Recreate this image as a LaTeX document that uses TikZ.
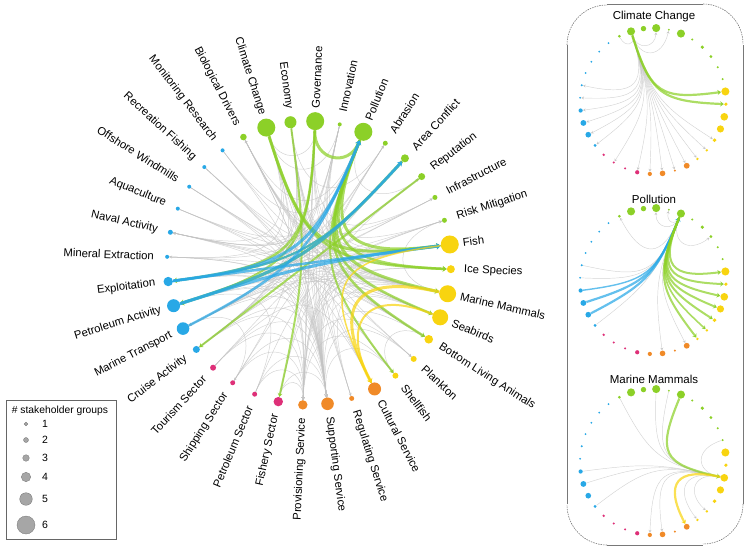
\documentclass[tikz,border=0pt]{standalone}
\usepackage{fontspec}
\setmainfont{Liberation Sans}
\usetikzlibrary{calc,arrows.meta}
\definecolor{cg}{RGB}{140,208,40}
\definecolor{cy}{RGB}{248,212,16}
\definecolor{co}{RGB}{240,138,40}
\definecolor{cp}{RGB}{222,48,120}
\definecolor{cb}{RGB}{40,168,230}
\definecolor{eg}{RGB}{195,195,195}
\definecolor{panelgray}{RGB}{120,120,120}
\pgfdeclarelayer{bg}
\pgfsetlayers{bg,main}
\newcommand\nodelist{0/Governance/cg/9, 1/Innovation/cg/2, 2/Pollution/cg/9, 3/Abrasion/cg/2.5, 4/Area Conflict/cg/4, 5/Reputation/cg/3.5, 6/Infrastructure/cg/2.5, 7/Risk Mitigation/cg/2.5, 8/Fish/cy/9, 9/Ice Species/cy/4, 10/Marine Mammals/cy/8.5, 11/Seabirds/cy/8, 12/Bottom Living Animals/cy/4.3, 13/Plankton/cy/3, 14/Shellfish/cy/3, 15/Cultural Service/co/6.5, 16/Regulating Service/co/2.5, 17/Supporting Service/co/6.3, 18/Provisioning Service/co/4.7, 19/Fishery Sector/cp/4.7, 20/Petroleum Sector/cp/2.5, 21/Shipping Sector/cp/2.5, 22/Tourism Sector/cp/3, 23/Cruise Activity/cb/3.5, 24/Marine Transport/cb/6.3, 25/Petroleum Activity/cb/6.5, 26/Exploitation/cb/4.7, 27/Mineral Extraction/cb/2, 28/Naval Activity/cb/2.5, 29/Aquaculture/cb/2, 30/Offshore Windmills/cb/2, 31/Recreation Fishing/cb/2, 32/Monitoring Research/cb/2, 33/Biological Drivers/cg/3.3, 34/Climate Change/cg/9, 35/Economy/cg/6}
% main edges: from/to/colour/width
\newcommand\mainedges{32/2/eg/0.5, 32/17/eg/0.5, 31/8/eg/0.5, 31/15/eg/0.5, 30/10/eg/0.5, 30/11/eg/0.5, 29/8/eg/0.5, 29/2/eg/0.5, 28/2/eg/0.5, 28/10/eg/0.5, 28/12/eg/0.5, 27/2/eg/0.5, 27/17/eg/0.5, 26/17/eg/0.5, 26/12/eg/0.5, 25/17/eg/0.5, 25/10/eg/0.5, 25/11/eg/0.5, 24/10/eg/0.5, 24/11/eg/0.5, 24/17/eg/0.5, 23/10/eg/0.5, 23/17/eg/0.5, 22/15/eg/0.5, 22/18/eg/0.5, 21/24/eg/0.5, 21/17/eg/0.5, 20/18/eg/0.5, 20/25/eg/0.5, 19/8/eg/0.5, 19/18/eg/0.5, 1/34/eg/0.5, 1/10/eg/0.5, 1/17/eg/0.5, 1/26/eg/0.5, 1/28/eg/0.5, 35/17/eg/0.5, 35/18/eg/0.5, 35/26/eg/0.5, 35/3/eg/0.5, 35/8/eg/0.5, 34/0/eg/0.5, 34/28/eg/0.5, 34/27/eg/0.5, 34/23/eg/0.5, 34/21/eg/0.5, 34/16/eg/0.5, 34/13/eg/0.5, 33/10/eg/0.5, 33/11/eg/0.5, 33/12/eg/0.5, 33/6/eg/0.5, 0/7/eg/0.5, 0/6/eg/0.5, 0/17/eg/0.5, 0/23/eg/0.5, 3/17/eg/0.5, 5/17/eg/0.5, 5/25/eg/0.5, 6/24/eg/0.5, 7/17/eg/0.5, 7/10/eg/0.5, 8/18/eg/0.5, 8/17/eg/0.5, 9/17/eg/0.5, 10/18/eg/0.5, 10/17/eg/0.5, 12/17/eg/0.5, 13/17/eg/0.5, 14/18/eg/0.5, 16/2/eg/0.5, 12/14/eg/0.5, 2/23/eg/0.5, 2/28/eg/0.5, 2/33/eg/0.5, 2/5/eg/0.5, 2/17/eg/0.5, 4/24/eg/0.5, 31/12/eg/0.5, 30/14/eg/0.5, 29/13/eg/0.5, 22/5/eg/0.5, 21/4/eg/0.5, 20/7/eg/0.5, 19/3/eg/0.5, 18/0/eg/0.5, 17/33/eg/0.5,
 32/10/eg/0.45, 31/17/eg/0.45, 30/17/eg/0.45, 29/17/eg/0.45, 28/17/eg/0.45, 27/18/eg/0.45, 26/18/eg/0.45, 25/18/eg/0.45, 23/18/eg/0.45, 22/17/eg/0.45, 21/18/eg/0.45, 20/17/eg/0.45, 19/17/eg/0.45, 35/10/eg/0.45, 35/11/eg/0.45, 35/12/eg/0.45, 35/14/eg/0.45, 35/25/eg/0.45, 35/23/eg/0.45, 1/8/eg/0.45, 1/12/eg/0.45, 1/15/eg/0.45, 1/24/eg/0.45, 3/24/eg/0.45, 3/26/eg/0.45, 6/25/eg/0.45, 7/26/eg/0.45, 9/18/eg/0.45, 11/17/eg/0.45, 11/18/eg/0.45, 13/18/eg/0.45, 14/17/eg/0.45, 16/8/eg/0.45, 16/10/eg/0.45, 33/8/eg/0.45, 33/9/eg/0.45, 33/17/eg/0.45, 0/8/eg/0.45, 0/10/eg/0.45, 0/18/eg/0.45, 0/24/eg/0.45, 28/8/eg/0.45, 27/10/eg/0.45, 26/10/eg/0.45, 24/8/eg/0.45, 23/8/eg/0.45,
 0/2/cg/3, 0/26/cg/2.5, 0/25/cg/2, 34/8/cg/3, 34/9/cg/2.5, 2/8/cg/3, 2/9/cg/2.5, 2/10/cg/3, 2/11/cg/2.5, 2/12/cg/2.5, 2/14/cg/2, 35/19/cg/2, 5/23/cg/2, 4/25/cg/3, 4/26/cg/2,
 26/2/cb/3, 25/4/cb/3, 26/4/cb/2, 25/8/cb/3, 26/8/cb/2.5, 24/2/cb/2.5,
 10/15/cy/3, 11/15/cy/2, 8/15/cy/1.5}
\newcommand\edgesA{34/0/eg/0.45, 34/1/eg/0.45, 33/34/eg/0.45, 34/28/eg/0.45, 34/27/eg/0.45, 34/26/eg/0.45, 34/25/eg/0.45, 34/24/eg/0.45, 34/23/eg/0.45, 34/21/eg/0.45, 34/19/eg/0.45, 34/18/eg/0.45, 34/17/eg/0.45, 34/16/eg/0.45, 34/15/eg/0.45, 34/14/eg/0.45, 34/13/eg/0.45, 34/12/eg/0.45, 34/8/cg/2.2, 34/9/cg/2.2}
\newcommand\edgesB{2/33/eg/0.45, 2/0/eg/0.45, 2/1/eg/0.45, 2/5/eg/0.45, 28/2/eg/0.45, 27/2/eg/0.45, 23/2/eg/0.45, 2/17/eg/0.45, 2/15/eg/0.45, 26/2/cb/1.4, 25/2/cb/2.2, 24/2/cb/2.2, 2/8/cg/2, 2/9/cg/2, 2/10/cg/2, 2/11/cg/2, 2/12/cg/2, 2/13/cg/1.6, 2/14/cg/2}
\newcommand\edgesC{33/10/eg/0.45, 0/10/eg/0.45, 1/10/eg/0.45, 7/10/eg/0.45, 26/10/eg/0.45, 25/10/eg/0.45, 23/10/eg/0.45, 10/18/eg/0.45, 10/17/eg/0.45, 10/14/eg/0.45, 10/13/eg/0.45, 2/10/cg/2.2, 10/15/cy/2.2}
\newcommand\placenodes[4]{%
  \foreach \ni/\nlab/\ncol/\nr in \nodelist {
    \pgfmathsetmacro\nang{87.5-10*\ni}
    \pgfmathsetmacro\ndm{max(2*#4*\nr,2)}
    \node[dot, fill=\ncol, minimum size=\ndm pt] (#1\ni) at ($(#2)+(\nang:#3)$) {};
  }}
\newcommand\drawedges[3]{%
  \foreach \ea/\eb/\ec/\ew in #3 {
    \pgfmathsetmacro\eD{abs(\ea-\eb)}
    \pgfmathsetmacro\eD{min(\eD,36-\eD)*10}
    \pgfmathsetmacro\eK{0.1+0.75*pow(cos(\eD/2),12)}
    \draw[edgeline, draw=\ec, line width=\ew pt] (#1\ea) .. controls ($(#2)!\eK!(#1\ea)$) and ($(#2)!\eK!(#1\eb)$) .. (#1\eb);
  }}
\begin{document}
\begin{tikzpicture}[x=1pt,y=1pt,
  dot/.style={circle, inner sep=0pt, draw=none},
  edgeline/.style={draw opacity=0.72, -{Stealth[length=2.5pt 0.6, width=2.5pt 1.3]}},
  lab/.style={font=\fontsize{11.3}{13}\selectfont, inner sep=0pt},
  ttl/.style={font=\fontsize{11.5}{13}\selectfont, inner sep=0pt},
  leg/.style={circle, fill=gray!70, draw=gray!90!black, line width=0.3pt, inner sep=0pt}]
\useasboundingbox (0,0) rectangle (746,550);
\coordinate (mc) at (309,287);
\coordinate (ca) at (653,449);
\coordinate (cbb) at (653,269);
\coordinate (cc) at (653,88);
% main circle nodes and labels
\placenodes{m}{mc}{142}{1}
\foreach \ni/\nlab/\ncol/\nr in \nodelist {
  \pgfmathsetmacro\nang{87.5-10*\ni}
  \pgfmathtruncatemacro\nside{cos(\nang)>0}
  \ifnum\nside=1
    \node[lab, rotate=\nang, anchor=west] (l\ni) at ($(mc)+(\nang:155)$) {\nlab};
  \else
    \pgfmathsetmacro\nrot{\nang+180}
    \node[lab, rotate=\nrot, anchor=east] (l\ni) at ($(mc)+(\nang:155)$) {\nlab};
  \fi
}
\placenodes{a}{ca}{73}{0.45}
\placenodes{b}{cbb}{73}{0.45}
\placenodes{c}{cc}{73}{0.45}
\begin{pgfonlayer}{bg}
\drawedges{m}{mc}{\mainedges}
\drawedges{a}{ca}{\edgesA}
\drawedges{b}{cbb}{\edgesB}
\drawedges{c}{cc}{\edgesC}
\end{pgfonlayer}
% panel titles
\node[ttl] (tA) at (654,533) {Climate Change};
\node[ttl] (tB) at (654,351) {Pollution};
\node[ttl] (tC) at (654,171) {Marine Mammals};
% panel border
\draw[panelgray, line width=0.7pt] (567,46) -- (567,505);
\draw[panelgray, line width=0.7pt] (743,46) -- (743,505);
\draw[panelgray, line width=0.7pt] (607,546) -- (703,546);
\draw[panelgray, line width=0.7pt] (607,5) -- (703,5);
\draw[panelgray, line width=0.6pt, dash pattern=on 1.5pt off 1pt] (567,505) arc[start angle=180, end angle=90, radius=40];
\draw[panelgray, line width=0.6pt, dash pattern=on 1.5pt off 1pt] (703,546) arc[start angle=90, end angle=0, radius=40];
\draw[panelgray, line width=0.6pt, dash pattern=on 1.5pt off 1pt] (743,46) arc[start angle=0, end angle=-90, radius=40];
\draw[panelgray, line width=0.6pt, dash pattern=on 1.5pt off 1pt] (607,5) arc[start angle=270, end angle=180, radius=40];
% legend
\draw[gray!80!black, line width=0.6pt] (6,11) rectangle (116,150);
\node[font=\fontsize{10.3}{12}\selectfont, inner sep=0pt] (legt) at (60,139) {\# stakeholder groups};
\foreach \li/\ly/\lr in {1/126/1.9, 2/110/2.5, 3/92/3.3, 4/73/4.7, 5/51/6.3, 6/25/9} {
  \node[leg, minimum size=2*\lr pt] (lg\li) at (26,\ly) {};
  \node[font=\fontsize{10.5}{12}\selectfont, anchor=west, inner sep=0pt] (ln\li) at (42,\ly) {\li};
}
\end{tikzpicture}
\end{document}
